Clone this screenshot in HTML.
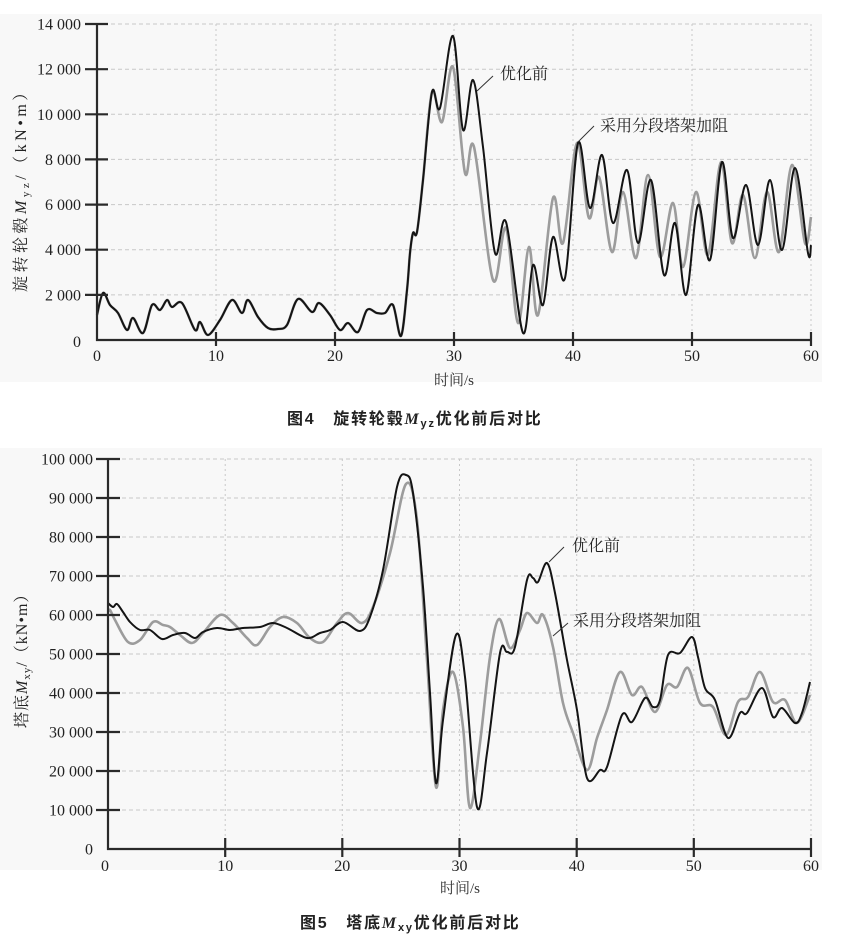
<!DOCTYPE html>
<html><head><meta charset="utf-8"><style>
html,body{margin:0;padding:0;background:#fff;}
svg{display:block;}
.tl{font-family:"Liberation Serif","Noto Serif CJK SC",serif;font-size:16px;fill:#222;}
.cj{font-family:"Liberation Serif","Noto Serif CJK SC",serif;font-size:15px;fill:#333;}
.cap{font-family:"Liberation Sans","Noto Sans CJK SC",sans-serif;font-size:16px;font-weight:bold;fill:#222;letter-spacing:1.8px;}
</style></head><body>
<svg id="s" width="847" height="938" viewBox="0 0 847 938" xmlns="http://www.w3.org/2000/svg">
<rect x="0" y="0" width="847" height="938" fill="#fff"/>
<!-- chart 1 panel -->
<rect x="0" y="14" width="822" height="368" fill="#f8f8f8"/>
<g stroke="#c8c8c8" stroke-width="1" stroke-dasharray="4,3" fill="none">
<line x1="97" y1="24" x2="811" y2="24"/><line x1="97" y1="69.2" x2="811" y2="69.2"/><line x1="97" y1="114.3" x2="811" y2="114.3"/><line x1="97" y1="159.4" x2="811" y2="159.4"/><line x1="97" y1="204.6" x2="811" y2="204.6"/><line x1="97" y1="249.7" x2="811" y2="249.7"/><line x1="97" y1="294.9" x2="811" y2="294.9"/>
</g>
<g stroke="#c8c8c8" stroke-width="1" stroke-dasharray="2,3" fill="none">
<line x1="216" y1="24" x2="216" y2="340"/><line x1="335" y1="24" x2="335" y2="340"/><line x1="454" y1="24" x2="454" y2="340"/><line x1="573" y1="24" x2="573" y2="340"/><line x1="692" y1="24" x2="692" y2="340"/><line x1="811" y1="24" x2="811" y2="340"/>
</g>
<path id="g1" fill="none" stroke="#9c9c9c" stroke-width="2.6" stroke-linejoin="round"/>
<path id="b1" fill="none" stroke="#141414" stroke-width="2" stroke-linejoin="round"/>
<g stroke="#2a2a2a" stroke-width="2.2">
<line x1="97" y1="24" x2="97" y2="341"/><line x1="96" y1="340" x2="812" y2="340"/>
<line x1="85" y1="24" x2="108" y2="24"/><line x1="85" y1="69.2" x2="108" y2="69.2"/><line x1="85" y1="114.3" x2="108" y2="114.3"/><line x1="85" y1="159.4" x2="108" y2="159.4"/><line x1="85" y1="204.6" x2="108" y2="204.6"/><line x1="85" y1="249.7" x2="108" y2="249.7"/><line x1="85" y1="294.9" x2="108" y2="294.9"/>
<line x1="216" y1="332" x2="216" y2="346"/><line x1="335" y1="332" x2="335" y2="346"/><line x1="454" y1="332" x2="454" y2="346"/><line x1="573" y1="332" x2="573" y2="346"/><line x1="692" y1="332" x2="692" y2="346"/><line x1="811" y1="332" x2="811" y2="346"/>
</g>
<g class="tl" text-anchor="end">
<text x="81" y="29.5">14 000</text><text x="81" y="74.7">12 000</text><text x="81" y="119.8">10 000</text><text x="81" y="164.9">8 000</text><text x="81" y="210.1">6 000</text><text x="81" y="255.2">4 000</text><text x="81" y="300.4">2 000</text><text x="81" y="347">0</text>
</g>
<g class="tl" text-anchor="middle">
<text x="97" y="361">0</text><text x="216" y="361">10</text><text x="335" y="361">20</text><text x="454" y="361">30</text><text x="573" y="361">40</text><text x="692" y="361">50</text><text x="811" y="361">60</text>
</g>
<text class="cj" x="454" y="385" text-anchor="middle">时间/s</text>
<text class="tl" letter-spacing="3.5" transform="translate(26,292) rotate(-90)">旋转轮毂<tspan font-style="italic">M</tspan><tspan font-size="11" dy="3">yz</tspan><tspan dy="-3">/（kN•m）</tspan></text>
<line x1="477" y1="91" x2="493" y2="76" stroke="#333" stroke-width="1"/>
<text class="tl" x="500" y="79">优化前</text>
<line x1="578" y1="142" x2="594" y2="126" stroke="#333" stroke-width="1"/>
<text class="tl" x="600" y="131">采用分段塔架加阻</text>
<text class="cap" x="287" y="424">图4　旋转轮毂<tspan font-family="Liberation Serif" font-style="italic">M</tspan><tspan font-size="11" dy="3">yz</tspan><tspan dy="-3">优化前后对比</tspan></text>

<!-- chart 2 panel -->
<rect x="0" y="448" width="822" height="422" fill="#f8f8f8"/>
<g stroke="#c8c8c8" stroke-width="1" stroke-dasharray="4,3" fill="none">
<line x1="108" y1="459" x2="811" y2="459"/><line x1="108" y1="498" x2="811" y2="498"/><line x1="108" y1="537" x2="811" y2="537"/><line x1="108" y1="576" x2="811" y2="576"/><line x1="108" y1="615" x2="811" y2="615"/><line x1="108" y1="654" x2="811" y2="654"/><line x1="108" y1="693" x2="811" y2="693"/><line x1="108" y1="732" x2="811" y2="732"/><line x1="108" y1="771" x2="811" y2="771"/><line x1="108" y1="810" x2="811" y2="810"/>
</g>
<g stroke="#c8c8c8" stroke-width="1" stroke-dasharray="2,3" fill="none">
<line x1="225.2" y1="459" x2="225.2" y2="849"/><line x1="342.3" y1="459" x2="342.3" y2="849"/><line x1="459.5" y1="459" x2="459.5" y2="849"/><line x1="576.7" y1="459" x2="576.7" y2="849"/><line x1="693.8" y1="459" x2="693.8" y2="849"/><line x1="811" y1="459" x2="811" y2="849"/>
</g>
<path id="g2" fill="none" stroke="#9c9c9c" stroke-width="2.6" stroke-linejoin="round"/>
<path id="b2" fill="none" stroke="#141414" stroke-width="2" stroke-linejoin="round"/>
<g stroke="#2a2a2a" stroke-width="2.2">
<line x1="108" y1="459" x2="108" y2="850"/><line x1="107" y1="849" x2="812" y2="849"/>
<line x1="96" y1="459" x2="120" y2="459"/><line x1="96" y1="498" x2="120" y2="498"/><line x1="96" y1="537" x2="120" y2="537"/><line x1="96" y1="576" x2="120" y2="576"/><line x1="96" y1="615" x2="120" y2="615"/><line x1="96" y1="654" x2="120" y2="654"/><line x1="96" y1="693" x2="120" y2="693"/><line x1="96" y1="732" x2="120" y2="732"/><line x1="96" y1="771" x2="120" y2="771"/><line x1="96" y1="810" x2="120" y2="810"/>
<line x1="225.2" y1="838" x2="225.2" y2="857"/><line x1="342.3" y1="838" x2="342.3" y2="857"/><line x1="459.5" y1="838" x2="459.5" y2="857"/><line x1="576.7" y1="838" x2="576.7" y2="857"/><line x1="693.8" y1="838" x2="693.8" y2="857"/><line x1="811" y1="838" x2="811" y2="857"/>
</g>
<g class="tl" text-anchor="end">
<text x="93" y="464.5">100 000</text><text x="93" y="503.5">90 000</text><text x="93" y="542.5">80 000</text><text x="93" y="581.5">70 000</text><text x="93" y="620.5">60 000</text><text x="93" y="659.5">50 000</text><text x="93" y="698.5">40 000</text><text x="93" y="737.5">30 000</text><text x="93" y="776.5">20 000</text><text x="93" y="815.5">10 000</text><text x="93" y="854.5">0</text>
</g>
<g class="tl" text-anchor="middle">
<text x="105" y="871">0</text><text x="225.2" y="871">10</text><text x="342.3" y="871">20</text><text x="459.5" y="871">30</text><text x="576.7" y="871">40</text><text x="693.8" y="871">50</text><text x="811" y="871">60</text>
</g>
<text class="cj" x="460" y="893" text-anchor="middle">时间/s</text>
<text class="tl" letter-spacing="1" transform="translate(27,728) rotate(-90)">塔底<tspan font-style="italic">M</tspan><tspan font-size="11" dy="3">xy</tspan><tspan dy="-3">/（kN•m）</tspan></text>
<line x1="549" y1="562" x2="564" y2="547" stroke="#333" stroke-width="1"/>
<text class="tl" x="572" y="551">优化前</text>
<line x1="553" y1="636" x2="568" y2="623" stroke="#333" stroke-width="1"/>
<text class="tl" x="573" y="626">采用分段塔架加阻</text>
<text class="cap" x="300" y="928">图5　塔底<tspan font-family="Liberation Serif" font-style="italic">M</tspan><tspan font-size="11" dy="3">xy</tspan><tspan dy="-3">优化前后对比</tspan></text>
</svg>
<script>
function cr(p){var d="M"+p[0][0]+","+p[0][1];for(var i=0;i<p.length-1;i++){var p0=p[i-1]||p[i],p1=p[i],p2=p[i+1],p3=p[i+2]||p2;var c1x=p1[0]+(p2[0]-p0[0])/6,c1y=p1[1]+(p2[1]-p0[1])/6,c2x=p2[0]-(p3[0]-p1[0])/6,c2y=p2[1]-(p3[1]-p1[1])/6;d+="C"+c1x.toFixed(1)+","+c1y.toFixed(1)+" "+c2x.toFixed(1)+","+c2y.toFixed(1)+" "+p2[0]+","+p2[1];}return d;}
var common1=[[97,315],[103,293],[110,305],[118,313],[127,330],[133,318],[143,333],[152,305],[160,310],[167,300],[172,307],[182,303],[195,330],[200,322],[208,335],[220,320],[232,300],[242,313],[248,300],[258,317],[268,328],[278,329],[287,325],[298,299],[312,312],[319,303],[330,315],[340,330],[348,323],[358,332],[367,310],[377,313],[385,313],[393,305],[401,336],[407,290],[410,253],[413,233],[417,232],[423,180],[432,92]];
var b1=common1.concat([[440,108],[453,36],[463,130],[473,80],[483,147],[495,253],[506,222],[523,333],[533,265],[543,305],[553,237],[565,278],[578,143],[590,208],[602,155],[613,223],[627,170],[638,243],[651,180],[664,275],[675,223],[686,295],[698,205],[710,260],[722,162],[733,238],[746,185],[758,245],[770,180],[782,250],[795,168],[808,253],[811,245]]);
var g1=common1.concat([[442,122],[453,67],[465,173],[474,147],[493,280],[506,228],[518,323],[529,247],[538,315],[553,198],[563,243],[577,143],[589,218],[599,177],[612,252],[623,192],[636,258],[648,175],[660,257],[673,203],[683,267],[696,192],[708,255],[721,162],[732,243],[743,195],[755,258],[767,192],[779,252],[792,165],[805,243],[811,217]]);
var b2=[[108,603],[113,607],[117,604],[123,612],[130,622],[140,630],[150,630],[162,639],[173,635],[185,633],[195,638],[203,632],[217,628],[230,630],[243,628],[260,627],[273,623],[287,628],[307,638],[320,633],[330,630],[343,622],[360,631],[370,617],[383,570],[397,487],[406,475],[413,493],[423,587],[430,693],[436,783],[443,720],[456,635],[465,677],[477,807],[487,753],[500,653],[507,652],[515,647],[527,580],[533,578],[538,582],[547,563],[555,593],[567,660],[577,710],[587,778],[600,770],[607,767],[622,715],[632,722],[645,698],[653,707],[660,700],[668,655],[680,653],[692,637],[698,657],[705,688],[715,700],[728,738],[740,713],[747,713],[762,688],[773,717],[782,708],[795,723],[802,713],[810,682]];
var g2=[[108,612],[110,610],[115,620],[128,642],[140,640],[153,622],[163,625],[170,627],[180,635],[192,643],[203,633],[220,615],[233,623],[247,638],[257,645],[270,627],[283,617],[297,623],[310,638],[323,642],[337,623],[348,613],[362,623],[373,607],[390,553],[406,484],[417,520],[427,660],[436,787],[443,710],[453,672],[463,727],[470,808],[480,743],[490,657],[499,619],[510,648],[520,630],[527,613],[537,623],[543,615],[553,647],[563,703],[573,733],[587,770],[597,738],[607,710],[620,672],[632,695],[642,687],[655,712],[667,685],[677,687],[688,668],[700,703],[713,707],[726,735],[738,702],[748,697],[760,672],[773,702],[785,700],[797,723],[810,695]];
document.getElementById("b1").setAttribute("d",cr(b1));
document.getElementById("g1").setAttribute("d",cr(g1));
document.getElementById("b2").setAttribute("d",cr(b2));
document.getElementById("g2").setAttribute("d",cr(g2));
</script>
</body></html>
